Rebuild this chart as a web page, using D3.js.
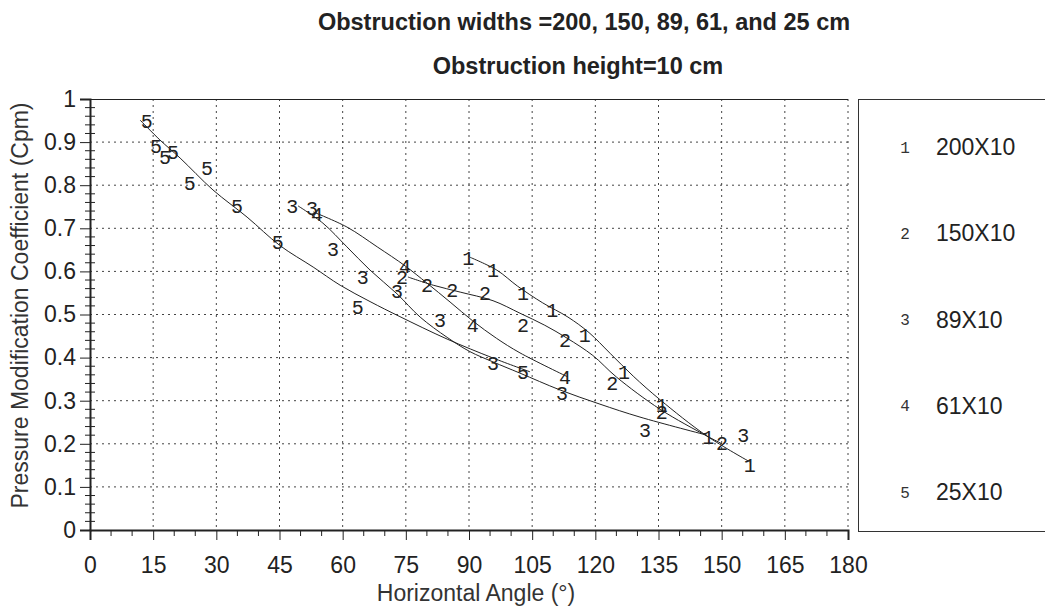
<!DOCTYPE html>
<html><head><meta charset="utf-8">
<script src="https://cdn.jsdelivr.net/npm/d3@7"></script>
<style>body{margin:0;background:#fff}svg{display:block}</style>
</head><body>
<svg id="c" width="1045" height="609"></svg>
<script>
// ---- data ----
const seriesIds = ["1","2","3","4","5"];
const seriesNames = ["200X10","150X10","89X10","61X10","25X10"];
const xTicks = [0,15,30,45,60,75,90,105,120,135,150,165,180];
const yTicks = [0,0.1,0.2,0.3,0.4,0.5,0.6,0.7,0.8,0.9,1];
const titleLines = ["Obstruction widths =200, 150, 89, 61, and 25 cm","Obstruction height=10 cm"];

// measured points (marker symbols)
const pts1 = [[89.8,0.631],[95.7,0.603],[102.8,0.550],[109.8,0.510],[117.5,0.452],[126.8,0.367],[135.8,0.290],[146.8,0.216],[156.7,0.151]];
const pts2 = [[74.1,0.587],[80.0,0.568],[86.0,0.557],[93.8,0.550],[102.8,0.476],[112.8,0.441],[124.0,0.341],[135.8,0.274],[150.1,0.202]];
const pts3 = [[48.0,0.752],[52.7,0.747],[57.7,0.652],[64.8,0.587],[72.9,0.555],[83.1,0.487],[95.7,0.387],[112.1,0.318],[131.8,0.232],[155.1,0.220]];
const pts4 = [[53.9,0.733],[74.8,0.613],[90.9,0.476],[112.8,0.355]];
const pts5 = [[13.5,0.949],[15.7,0.891],[17.8,0.865],[19.7,0.877],[23.7,0.805],[27.8,0.840],[34.9,0.752],[44.6,0.668],[63.6,0.517],[102.8,0.367]];

// fitted curves
const fit1 = [[90.2,0.633],[96.6,0.603],[101.5,0.566],[107.5,0.527],[113.5,0.494],[118.5,0.458],[123.5,0.410],[129.0,0.357],[135.4,0.302],[146.5,0.218],[156.7,0.158]];
const fit2 = [[75.5,0.587],[81.5,0.568],[87.9,0.552],[95.7,0.532],[102.1,0.503],[108.0,0.475],[113.3,0.445],[119.4,0.405],[125.0,0.355],[135.4,0.280],[146.5,0.218],[150.1,0.200]];
const fit3 = [[49.4,0.752],[55.3,0.712],[61.0,0.657],[66.5,0.603],[72.9,0.548],[78.4,0.494],[84.8,0.447],[90.2,0.414],[95.7,0.390],[102.1,0.364],[111.6,0.325],[121.1,0.292],[130.6,0.262],[146.5,0.220]];
const fit4 = [[53.0,0.738],[61.0,0.703],[68.2,0.657],[74.8,0.613],[80.0,0.573],[85.5,0.529],[90.9,0.485],[96.5,0.445],[102.1,0.411],[113.5,0.355]];
const fit5 = [[11.9,0.951],[16.6,0.905],[21.4,0.863],[29.2,0.789],[37.3,0.726],[45.1,0.660],[53.0,0.610],[59.4,0.568],[66.5,0.530],[73.6,0.495],[84.8,0.443],[95.7,0.399],[104.5,0.367]];

const points = [pts1,pts2,pts3,pts4,pts5];
const fits = [fit1,fit2,fit3,fit4,fit5];

// ---- drawing ----
const svg = d3.select("#c");
const L = 90, R = 848, T = 99, B = 530;
const x = d3.scaleLinear().domain([0,180]).range([L,R]);
const y = d3.scaleLinear().domain([0,1]).range([B,T]);
const ink = "#222";
const sans = "Liberation Sans, Arial, sans-serif";
const mono = "Liberation Mono, Courier New, monospace";
const FS = 23;

// titles
svg.append("text").attr("x",584).attr("y",30).attr("text-anchor","middle")
  .attr("font-family",sans).attr("font-weight","bold").attr("font-size",23.5).attr("fill",ink).text(titleLines[0]);
svg.append("text").attr("x",578).attr("y",74).attr("text-anchor","middle")
  .attr("font-family",sans).attr("font-weight","bold").attr("font-size",23.5).attr("fill",ink).text(titleLines[1]);

// grid
const g = svg.append("g");
g.selectAll(".gx").data(xTicks.filter(d=>d>0)).join("line")
  .attr("x1",d=>x(d)).attr("x2",d=>x(d)).attr("y1",T).attr("y2",B)
  .attr("stroke","#444").attr("stroke-width",1).attr("stroke-dasharray","2,4");
g.selectAll(".gy").data(yTicks.filter(d=>d>0 && d<1)).join("line")
  .attr("x1",L).attr("x2",R).attr("y1",d=>y(d)).attr("y2",d=>y(d))
  .attr("stroke","#444").attr("stroke-width",1).attr("stroke-dasharray","2,4");
g.append("line").attr("x1",L).attr("x2",R).attr("y1",T+0.5).attr("y2",T+0.5).attr("stroke",ink).attr("stroke-width",1);

// axes
const xAxis = d3.axisBottom(x).tickValues(xTicks).tickSize(10).tickFormat(d3.format("d"));
const xg = svg.append("g").attr("transform",`translate(0,${B})`).call(xAxis);
xg.select(".domain").attr("stroke",ink).attr("stroke-width",2);
xg.selectAll(".tick line").attr("stroke",ink);
xg.selectAll(".tick text").attr("font-family",sans).attr("font-size",FS).attr("fill",ink)
  .attr("y",43).attr("dy","0");
const xMinor = d3.range(0,181,5).filter(d=>d%15!==0);
svg.append("g").selectAll("line").data(xMinor).join("line")
  .attr("x1",d=>x(d)).attr("x2",d=>x(d)).attr("y1",B).attr("y2",B+6).attr("stroke",ink);

const yAxis = d3.axisLeft(y).tickValues(yTicks).tickSize(10).tickFormat(d=>d3.format("~g")(d));
const yg = svg.append("g").attr("transform",`translate(${L},0)`).call(yAxis);
yg.select(".domain").attr("stroke",ink).attr("stroke-width",2);
yg.selectAll(".tick line").attr("stroke",ink);
yg.selectAll(".tick text").attr("font-family",sans).attr("font-size",FS).attr("fill",ink).attr("x",-14);
const yMinor = d3.range(0,101,2).map(d=>d/100).filter(d=>Math.round(d*100)%10!==0);
svg.append("g").selectAll("line").data(yMinor).join("line")
  .attr("x1",L-5).attr("x2",L+5).attr("y1",d=>y(d)).attr("y2",d=>y(d)).attr("stroke",ink);

// axis titles
svg.append("text").attr("x",476).attr("y",601).attr("text-anchor","middle")
  .attr("font-family",sans).attr("font-size",FS).attr("fill","#333").text("Horizontal Angle (°)");
svg.append("text").attr("transform",`translate(28,${(T+B)/2 - 9}) rotate(-90)`).attr("text-anchor","middle")
  .attr("font-family",sans).attr("font-size",FS).attr("fill","#333").text("Pressure Modification Coefficient (Cpm)");

// curves
const line = d3.line().x(d=>x(d[0])).y(d=>y(d[1])).curve(d3.curveCatmullRom.alpha(0.5));
svg.append("g").selectAll("path").data(fits).join("path")
  .attr("d",line).attr("fill","none").attr("stroke",ink).attr("stroke-width",1);

// markers
points.forEach((arr,i)=>{
  svg.append("g").selectAll("text").data(arr).join("text")
    .attr("x",d=>x(d[0])).attr("y",d=>y(d[1])).attr("dy","0.35em").attr("text-anchor","middle")
    .attr("font-family",mono).attr("font-size",20).attr("fill","#222").text(seriesIds[i]);
});

// legend
svg.append("rect").attr("x",858.5).attr("y",99.5).attr("width",200).attr("height",432)
  .attr("fill","none").attr("stroke","#333").attr("stroke-width",1);
const ly = d3.scalePoint().domain(seriesIds).range([147,492]);
const lg = svg.append("g").selectAll("g").data(seriesIds).join("g")
  .attr("transform",d=>`translate(0,${ly(d)})`);
lg.append("text").attr("x",905).attr("dy","0.35em").attr("text-anchor","middle")
  .attr("font-family",mono).attr("font-size",16).attr("fill","#333").text(d=>d);
lg.append("text").attr("x",936).attr("dy","0.35em")
  .attr("font-family",sans).attr("font-size",FS).attr("fill","#222").text((d,i)=>seriesNames[i]);
</script>
</body></html>
